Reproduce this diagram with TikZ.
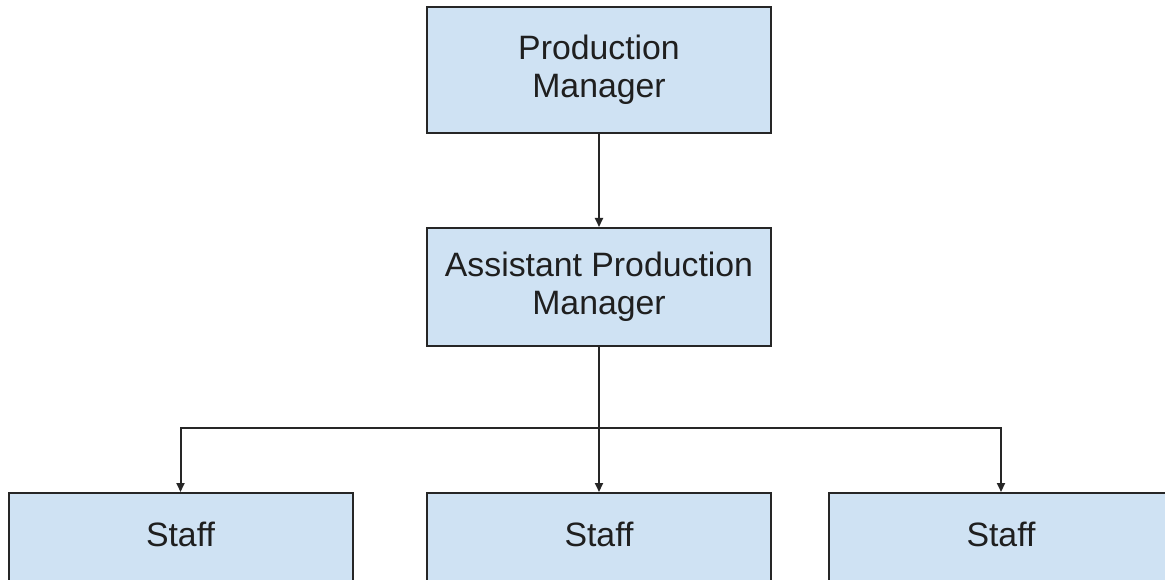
\documentclass[tikz,border=0pt]{standalone}
\usepackage{fontspec}
\setmainfont{Liberation Sans}
\usetikzlibrary{arrows.meta}
\definecolor{boxfill}{HTML}{CFE2F3}
\definecolor{edge}{HTML}{262626}
\begin{document}
\begin{tikzpicture}[x=1pt,y=-1pt,
  orgbox/.style={draw=edge, line width=2pt, fill=boxfill, rectangle,
    minimum width=344pt, inner sep=0pt, align=center, text=black!88,
    font=\fontsize{33.8}{38.5}\selectfont},
  conn/.style={draw=edge, line width=2pt, -{Triangle[length=9pt,width=8pt]}},
  plain/.style={draw=edge, line width=2pt}]
\useasboundingbox (0,0) rectangle (1165,580);
\fill[white] (0,0) rectangle (1165,580);
\begin{scope}
\clip (0,0) rectangle (1165,580);
\node[orgbox, minimum height=126pt] (pm) at (599,70) {Production\\Manager};
\node[orgbox, minimum height=118pt] (apm) at (599,287) {Assistant Production\\Manager};
\node[orgbox, minimum height=118pt, anchor=north, text height=24pt, text depth=36pt] (s1) at (180.5,492) {Staff};
\node[orgbox, minimum height=118pt, anchor=north, text height=24pt, text depth=36pt] (s2) at (599,492) {Staff};
\node[orgbox, minimum height=118pt, anchor=north, text height=24pt, text depth=36pt] (s3) at (1001,492) {Staff};
\coordinate (j) at (599,428);
\draw[conn] (pm.south) -- (apm.north);
\draw[plain] (apm.south) -- (j);
\draw[conn] (j) -| (s1.north);
\draw[conn] (j) -- (s2.north);
\draw[conn] (j) -| (s3.north);
\end{scope}
\end{tikzpicture}
\end{document}
